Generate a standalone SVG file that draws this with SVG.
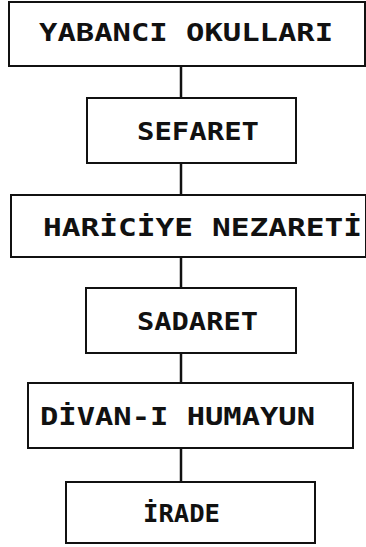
<svg xmlns="http://www.w3.org/2000/svg" width="366" height="547" viewBox="0 0 366 547">
<style>
.box{fill:#fff;stroke:#111;stroke-width:2}
.lbl{font-family:"DejaVu Sans Mono","Liberation Mono",monospace;font-weight:bold;font-size:24px;fill:#111}
.con line{stroke:#111;stroke-width:2.5}
</style>
<rect width="366" height="547" fill="#fff"/>
<g class="con">
<line x1="181" y1="66" x2="181" y2="98"/>
<line x1="181" y1="163" x2="181" y2="195"/>
<line x1="181" y1="257" x2="181" y2="288"/>
<line x1="181" y1="353" x2="181" y2="383"/>
<line x1="181" y1="448" x2="181" y2="482"/>
</g>
<g id="yabanci"><rect class="box" x="9" y="2" width="356" height="64"/><text class="lbl" x="39" y="41" textLength="294" lengthAdjust="spacingAndGlyphs">YABANCI OKULLARI</text></g>
<g id="sefaret"><rect class="box" x="87" y="98" width="209" height="65"/><text class="lbl" x="137" y="140" textLength="122" lengthAdjust="spacingAndGlyphs">SEFARET</text></g>
<g id="hariciye"><rect class="box" x="11" y="195" width="355" height="62"/><text class="lbl" x="43" y="236" textLength="319" lengthAdjust="spacingAndGlyphs">HARİCİYE NEZARETİ</text></g>
<g id="sadaret"><rect class="box" x="86" y="288" width="210" height="65"/><text class="lbl" x="137" y="330" textLength="121" lengthAdjust="spacingAndGlyphs">SADARET</text></g>
<g id="divan"><rect class="box" x="28" y="383" width="325" height="65"/><text class="lbl" x="40" y="425" textLength="275" lengthAdjust="spacingAndGlyphs">DİVAN-I HUMAYUN</text></g>
<g id="irade"><rect class="box" x="66" y="482" width="249" height="61"/><text class="lbl" x="143" y="522" textLength="77" lengthAdjust="spacingAndGlyphs">İRADE</text></g>
</svg>
